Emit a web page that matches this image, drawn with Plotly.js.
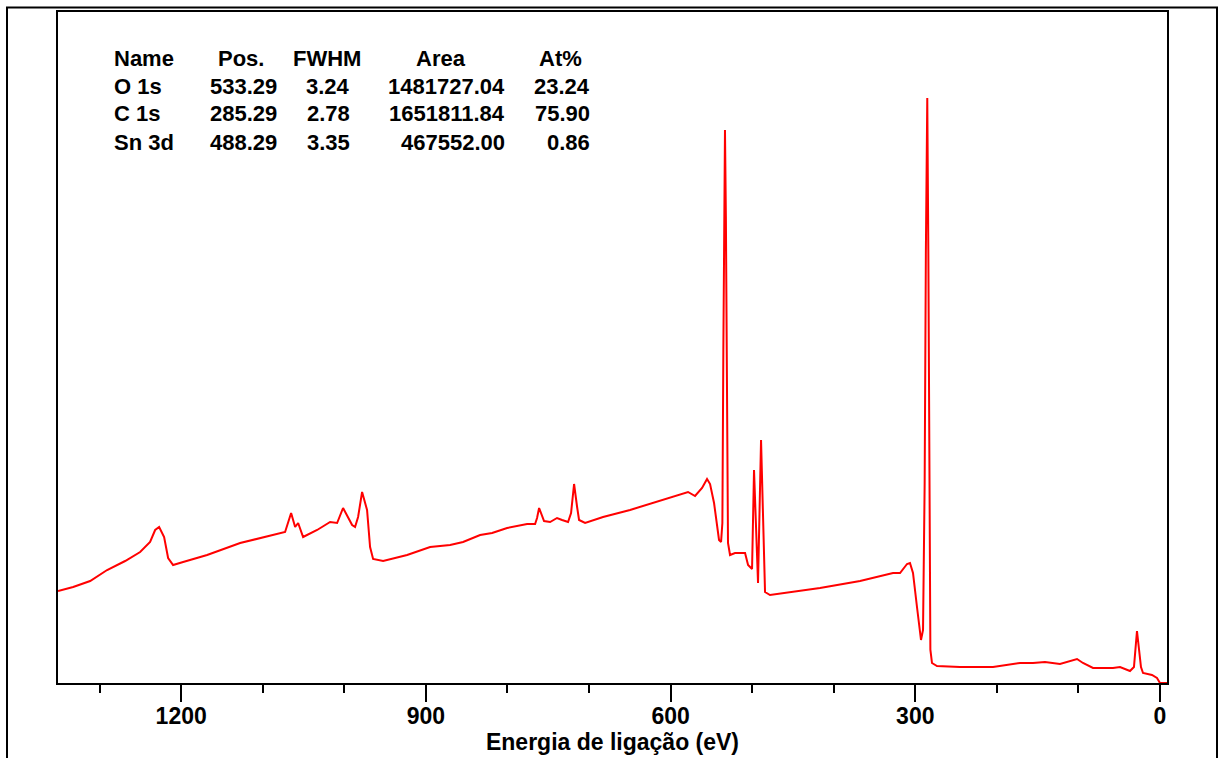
<!DOCTYPE html>
<html>
<head>
<meta charset="utf-8">
<script src="https://cdn.plot.ly/plotly-3.0.1.min.js"></script>
<style>
  html, body { margin: 0; padding: 0; background: #ffffff; }
  #chart { width: 1220px; height: 758px; }
</style>
</head>
<body>
<div id="chart"></div>
<script>
// ---- Data (binding energy in eV, intensity in counts) ----
const bindingEnergy = [
  1351, 1332.4, 1311.6, 1290.8, 1268.7, 1250.3, 1238.1, 1231.9, 1227.0, 1220.9,
  1216.0, 1209.9, 1197.6, 1168.2, 1127.7, 1087.3, 1072.6, 1065.2, 1060.3, 1056.6,
  1050.5, 1033.3, 1017.4, 1008.8, 1001.5, 990.4, 986.8, 983.1, 978.2, 972.1,
  968.4, 964.7, 952.4, 923.0, 894.8, 870.3, 854.4, 833.5, 818.8, 800.4,
  775.9, 766.1, 763.7, 761.2, 757.5, 755.1, 747.7, 739.2, 733.0, 725.7,
  722.0, 718.3, 714.6, 712.2, 704.8, 682.8, 649.7, 609.2, 578.6, 570.0,
  561.4, 555.3, 551.6, 546.7, 540.6, 538.1, 536.5, 535.3, 534.3, 533.3,
  532.2, 531.0, 529.6, 527.1, 521.0, 514.8, 508.7, 505.0, 500.1, 497.7,
  492.8, 489.1, 484.2, 478.1, 449.9, 416.8, 367.7, 346.9, 327.3, 318.7,
  310.1, 306.5, 302.8, 297.9, 293.0, 290.5, 288.5, 287.0, 285.3, 284.0,
  282.8, 281.5, 279.5, 273.4, 245.2, 204.7, 171.6, 155.7, 141.0, 122.6,
  101.7, 94.4, 82.1, 57.6, 49.0, 36.8, 31.9, 28.2, 23.3, 20.8,
  9.8, 3.7, 0, -8.6
];
const intensity = [
  27600, 28800, 30600, 33900, 36600, 39300, 42300, 45900, 46800, 43800,
  37500, 35400, 36300, 38400, 42000, 44400, 45300, 51000, 46800, 48000,
  43800, 45900, 48300, 48000, 52500, 47400, 46800, 49800, 57300, 51900,
  40800, 37200, 36600, 38400, 40800, 41400, 42300, 44400, 45000, 46500,
  47700, 47700, 49500, 52500, 50400, 48600, 48300, 49500, 48900, 48300,
  51000, 59700, 52800, 48900, 48000, 49800, 51900, 54900, 57300, 56100,
  58500, 61200, 59700, 54000, 42900, 42300, 48000, 100000, 150000, 165900,
  140000, 80000, 42000, 38400, 39000, 39000, 39000, 35400, 34200, 63900,
  30000, 72900, 27300, 26400, 27300, 28500, 30600, 31800, 33000, 33000,
  35700, 36000, 33000, 22800, 12900, 15900, 60000, 130000, 175500, 130000,
  50000, 10000, 6000, 5100, 4800, 4800, 6000, 6000, 6300, 5700,
  7200, 6000, 4500, 4500, 4800, 3600, 4800, 15600, 4800, 3000,
  2400, 1500, 0, 0
];

// ---- Quantification table shown in the plot ----
const tableHeader = ['Name', 'Pos.', 'FWHM', 'Area', 'At%'];
const tableNames  = ['O 1s', 'C 1s', 'Sn 3d'];
const tablePos    = ['533.29', '285.29', '488.29'];
const tableFWHM   = ['3.24', '2.78', '3.35'];
const tableArea   = ['1481727.04', '1651811.84', '467552.00'];
const tableAt     = ['23.24', '75.90', '0.86'];

const xTitle = 'Energia de ligação (eV)';

// ---- Layout geometry (pixels) ----
const W = 1220, H = 758;
const M = { l: 58, r: 53, t: 12, b: 75 };
const PW = W - M.l - M.r, PH = H - M.t - M.b;
const px2x = p => (p - M.l) / PW;
const py2y = p => 1 - (p - M.t) / PH;

const FONT = 'Arial, "Liberation Sans", Helvetica, sans-serif';
const tableFont = { family: FONT, size: 22, color: '#000000', weight: 700 };

const rowY = [58, 86, 114, 142];
const headerCenters = [null, 241, 327, 441, 560];
const valueRights = [null, 278, 351, 506, 591];
const nameLeft = 113;

const annotations = [];
function addAnn(text, xpx, ypx, anchor) {
  annotations.push({
    text: text, xref: 'paper', yref: 'paper',
    x: px2x(xpx), y: py2y(ypx), xanchor: anchor, yanchor: 'middle',
    showarrow: false, font: tableFont, borderpad: 0
  });
}
// header
addAnn(tableHeader[0], nameLeft, rowY[0], 'left');
for (let c = 1; c < tableHeader.length; c++) addAnn(tableHeader[c], headerCenters[c], rowY[0], 'center');
// rows
const cols = [tableNames, tablePos, tableFWHM, tableArea, tableAt];
for (let r = 0; r < tableNames.length; r++) {
  addAnn(cols[0][r], nameLeft, rowY[r + 1], 'left');
  for (let c = 1; c < cols.length; c++) addAnn(cols[c][r], valueRights[c], rowY[r + 1], 'right');
}

// outer frame (page border lines)
const shapes = [{
  type: 'rect', xref: 'paper', yref: 'paper',
  x0: px2x(7), x1: px2x(1217), y0: py2y(H + 10), y1: py2y(7.5),
  line: { color: '#000000', width: 2 }, fillcolor: 'rgba(0,0,0,0)'
}];

const trace = {
  x: bindingEnergy, y: intensity, type: 'scatter', mode: 'lines',
  line: { color: '#ff0000', width: 2 }, hoverinfo: 'skip', showlegend: false
};

const layout = {
  width: W, height: H,
  margin: M,
  paper_bgcolor: '#ffffff', plot_bgcolor: '#ffffff',
  font: { family: FONT, color: '#000000' },
  xaxis: {
    range: [1351, -8.6],
    tickmode: 'linear', tick0: 0, dtick: 300,
    ticks: 'outside', ticklen: 17, tickwidth: 2, tickcolor: '#000000',
    ticklabelstandoff: -6,
    minor: { tickmode: 'linear', tick0: 0, dtick: 100, ticks: 'outside', ticklen: 8, tickwidth: 2, tickcolor: '#000000', showgrid: false },
    showline: true, mirror: true, linecolor: '#000000', linewidth: 2,
    showgrid: false, zeroline: false,
    tickfont: { family: FONT, size: 23, color: '#000000', weight: 700 },
    title: { text: xTitle, font: { family: FONT, size: 23, color: '#000000', weight: 700 }, standoff: 0 },
    automargin: false
  },
  yaxis: {
    range: [0, 201300],
    showticklabels: false, ticks: '',
    showline: true, mirror: true, linecolor: '#000000', linewidth: 2,
    showgrid: false, zeroline: false, automargin: false
  },
  annotations: annotations,
  shapes: shapes
};

Plotly.newPlot('chart', [trace], layout, { staticPlot: true, displayModeBar: false });
</script>
</body>
</html>
